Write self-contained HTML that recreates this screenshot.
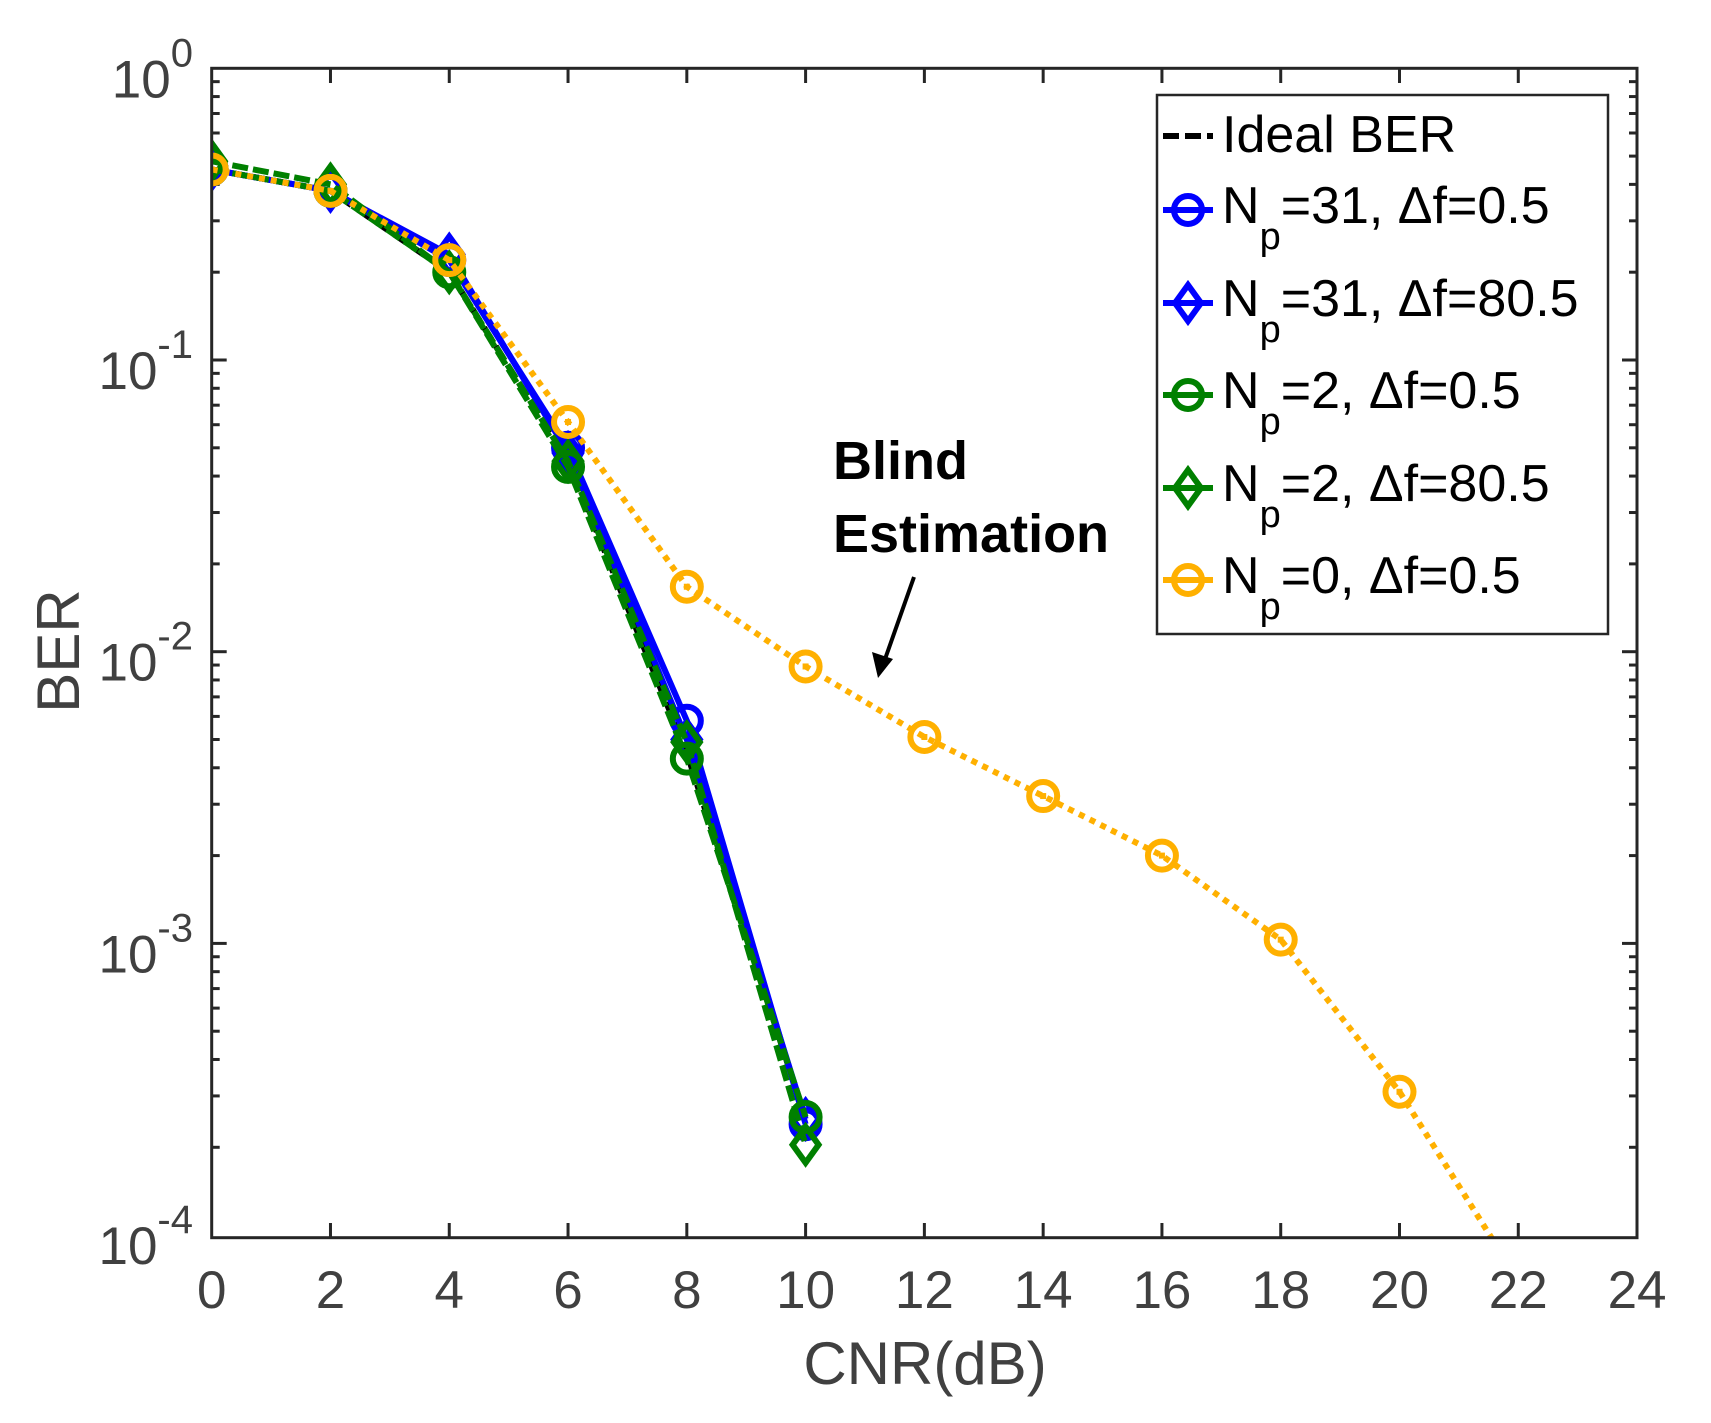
<!DOCTYPE html>
<html><head><meta charset="utf-8"><style>html,body{margin:0;padding:0;background:#fff}svg{display:block}</style></head>
<body>
<svg id="s" xmlns="http://www.w3.org/2000/svg" width="1711" height="1423" viewBox="0 0 1711 1423" font-family="Liberation Sans, Arial, sans-serif">
<rect width="1711" height="1423" fill="#fff"/>
<g id="ticks" stroke="#262626" stroke-width="3"></g>
<g id="series" clip-path="url(#c)"></g>
<defs><clipPath id="c"><rect x="211.7" y="68.3" width="1425.3" height="1169.4"/></clipPath></defs>
<rect x="211.7" y="68.3" width="1425.3" height="1169.4" fill="none" stroke="#262626" stroke-width="3"/>
<g id="labels" fill="#404040"></g>
<text x="925" y="1384" font-size="60" fill="#404040" text-anchor="middle">CNR(dB)</text>
<text transform="translate(79,651) rotate(-90)" font-size="60" fill="#404040" text-anchor="middle">BER</text>
<text x="833" y="479" font-size="54" font-weight="bold">Blind</text>
<text x="833" y="552" font-size="54" font-weight="bold">Estimation</text>
<line x1="914" y1="577" x2="884" y2="662" stroke="#000" stroke-width="4"/>
<polygon points="878,678 872,652 893,659" fill="#000"/>
<rect x="1157" y="95" width="451" height="539" fill="#fff" stroke="#262626" stroke-width="2.5"/>
<g id="leg"></g>
</svg>
<script>
const NS="http://www.w3.org/2000/svg";
const X=v=>211.7+v*59.39, Y=v=>68.3-Math.log10(v)*291.7;
function el(p,t,a,txt){const e=document.createElementNS(NS,t);for(const k in a)e.setAttribute(k,a[k]);if(txt!=null)e.textContent=txt;document.getElementById(p).appendChild(e);return e;}
for(let i=1;i<12;i++){const x=X(2*i);el('ticks','line',{x1:x,y1:1237.7,x2:x,y2:1223});el('ticks','line',{x1:x,y1:68.3,x2:x,y2:83});}
for(let d=0;d<4;d++){for(let k=1;k<10;k++){const y=Y(Math.pow(10,-d-1)*k);const L=k==1?15:8;if(k==1&&d==3)continue;
el('ticks','line',{x1:211.7,y1:y,x2:211.7+L,y2:y});el('ticks','line',{x1:1637,y1:y,x2:1637-L,y2:y});}}
for(let i=0;i<=12;i++){el('labels','text',{x:X(2*i),y:1308,'font-size':53,'text-anchor':'middle'},String(2*i));}
for(let d=0;d<=4;d++){const y=Y(Math.pow(10,-d));const t=el('labels','text',{x:193,y:y+29,'font-size':53,'text-anchor':'end'});
t.innerHTML='10<tspan dy="-31" font-size="40">'+(d?'-'+d:'0')+'</tspan>';}
const xs=[0,2,4,6,8,10];
const S=[
{c:'#000',dash:'14 8',y:[0.45,0.38,0.2,0.045,0.0045,0.00025],m:null},
{c:'#0000ff',y:[0.45,0.38,0.23,0.048,0.005,0.00025],m:'d'},
{c:'#0000ff',y:[0.45,0.38,0.22,0.05,0.0058,0.00024],m:'o'},
{c:'#008000',dash:'16 5',y:[0.48,0.4,0.2,0.045,0.0049,0.000204],m:'d'},
{c:'#008000',dash:'16 5',y:[0.45,0.38,0.2,0.043,0.0043,0.000254],m:'o'},
{c:'#FFB000',dash:'6 6',x:[0,2,4,6,8,10,12,14,16,18,20,22],y:[0.45,0.38,0.22,0.0613,0.0167,0.0089,0.0051,0.0032,0.002,0.00103,0.00031,0.00007],m:'o',dot:1},
];
function marker(g,m,x,y,c){if(m=='o')el(g,'circle',{cx:x,cy:y,r:14,fill:'none',stroke:c,'stroke-width':6});
else el(g,'polygon',{points:`${x},${y-18} ${x+13},${y} ${x},${y+18} ${x-13},${y}`,fill:'none',stroke:c,'stroke-width':6});}
for(const s of S){const xx=s.x||xs;const pts=xx.map((x,i)=>X(x)+','+Y(s.y[i])).join(' ');
el('series','polyline',{points:pts,fill:'none',stroke:s.c,'stroke-width':6,'stroke-dasharray':s.dash||'none'});
if(s.m)xx.forEach((x,i)=>{if(x<=20){marker('series',s.m,X(x),Y(s.y[i]),s.c);if(s.dot)el('series','rect',{x:X(x)-3,y:Y(s.y[i])-3,width:6,height:6,fill:s.c});}});}
el('leg','line',{x1:1163,y1:136,x2:1213,y2:136,stroke:'#000','stroke-width':6,'stroke-dasharray':'16 6'});
el('leg','text',{x:1222,y:152,'font-size':52},'Ideal BER');
const L=[['#0000ff','o','=31, Δf=0.5'],['#0000ff','d','=31, Δf=80.5'],['#008000','o','=2, Δf=0.5'],['#008000','d','=2, Δf=80.5'],['#FFB000','o','=0, Δf=0.5']];
const by=[223,316,408,501,593];
L.forEach((l,i)=>{const y=by[i]-13;el('leg','line',{x1:1163,y1:y,x2:1213,y2:y,stroke:l[0],'stroke-width':6});marker('leg',l[1],1188,y,l[0]);
const t=el('leg','text',{x:1222,y:by[i],'font-size':52});t.innerHTML='N<tspan dy="26" font-size="38">p</tspan><tspan dy="-26">'+l[2]+'</tspan>';});
</script>
</body></html>
